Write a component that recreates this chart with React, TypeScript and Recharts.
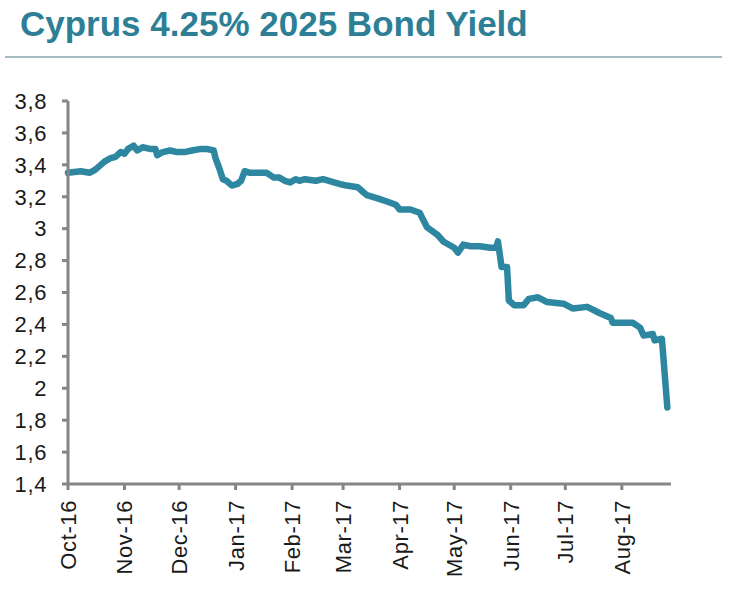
import { LineChart, Line, XAxis, YAxis } from 'recharts';

// days since 1 Oct 2016
const days = [
  0, 7, 12, 15, 18, 20, 23, 26, 29, 31, 33, 36, 38, 41, 45, 48, 49, 52, 56, 60,
  64, 68, 73, 76, 80, 81, 83, 85, 87, 90, 93, 95, 97, 100, 105, 109, 113, 116, 119, 122,
  125, 127, 130, 136, 140, 146, 149, 153, 159, 162, 164, 170, 175, 180, 182, 188, 193, 197, 203, 206,
  212, 214, 217, 221, 226, 232, 235, 236, 238, 241, 242, 245, 250, 253, 258, 263, 272, 277, 285, 292,
  298, 299, 310, 314, 316, 321, 322, 326, 329,
];
const yields = [
  3.35, 3.36, 3.35, 3.37, 3.4, 3.42, 3.44, 3.45, 3.48, 3.47, 3.5, 3.52, 3.49, 3.51, 3.5, 3.5, 3.46, 3.48, 3.49, 3.48,
  3.48, 3.49, 3.5, 3.5, 3.49, 3.44, 3.38, 3.31, 3.3, 3.27, 3.28, 3.3, 3.36, 3.35, 3.35, 3.35, 3.32, 3.32, 3.3, 3.29,
  3.31, 3.3, 3.31, 3.3, 3.31, 3.29, 3.28, 3.27, 3.26, 3.23, 3.21, 3.19, 3.17, 3.15, 3.12, 3.12, 3.1, 3.01, 2.96, 2.92,
  2.88, 2.85, 2.9, 2.89, 2.89, 2.88, 2.88, 2.92, 2.76, 2.76, 2.55, 2.52, 2.52, 2.56, 2.57, 2.54, 2.53, 2.5, 2.51, 2.47,
  2.44, 2.41, 2.41, 2.38, 2.33, 2.34, 2.3, 2.31, 1.88,
];

const monthTicks = [0, 31, 61, 92, 123, 151, 182, 212, 243, 273, 304];
const monthLabels = ['Oct-16', 'Nov-16', 'Dec-16', 'Jan-17', 'Feb-17', 'Mar-17', 'Apr-17', 'May-17', 'Jun-17', 'Jul-17', 'Aug-17'];
const yTicks = [1.4, 1.6, 1.8, 2, 2.2, 2.4, 2.6, 2.8, 3, 3.2, 3.4, 3.6, 3.8];

const data = days.map((d, i) => ({ day: d, value: yields[i] }));

const FONT = '"Liberation Sans", Arial, sans-serif';

const MonthTick = ({ x, y, payload }: any) => {
  const idx = monthTicks.indexOf(payload.value);
  return (
    <g transform={`translate(${x},${y})`}>
      <text
        x={0}
        y={0}
        dy={8}
        textAnchor="end"
        transform="rotate(-90)"
        fill="#1a1a1a"
        fontSize={22}
        letterSpacing={0.6}
        fontFamily={FONT}
      >
        {monthLabels[idx]}
      </text>
    </g>
  );
};

export default function App() {
  return (
    <div style={{ position: 'absolute', left: 0, top: 0, width: 735, height: 597, background: '#fff', fontFamily: FONT }}>
      <div
        style={{
          position: 'absolute',
          left: 20,
          top: 4,
          fontSize: 35,
          fontWeight: 'bold',
          color: '#2E7F95',
          whiteSpace: 'nowrap',
        }}
      >
        Cyprus 4.25% 2025 Bond Yield
      </div>
      <div style={{ position: 'absolute', left: 5, top: 56, width: 717, height: 2, background: '#A3BDC1' }} />
      <div style={{ position: 'absolute', left: 0, top: 0 }}>
        <LineChart width={735} height={597} data={data} margin={{ top: 101, right: 64, bottom: 13, left: 8 }}>
          <XAxis
            dataKey="day"
            type="number"
            domain={[0, 331]}
            ticks={monthTicks}
            interval={0}
            tick={<MonthTick />}
            tickSize={6}
            tickMargin={10}
            height={100}
            axisLine={{ stroke: '#868686', strokeWidth: 3 }}
            tickLine={{ stroke: '#868686', strokeWidth: 3 }}
          />
          <YAxis
            domain={[1.4, 3.8]}
            ticks={yTicks}
            interval={0}
            width={60}
            tickSize={6}
            tickMargin={15}
            tickFormatter={(v: number) => String(+v.toFixed(1)).replace('.', ',')}
            tick={{ fill: '#1a1a1a', fontSize: 22, fontFamily: FONT, letterSpacing: 0.6 }}
            axisLine={{ stroke: '#868686', strokeWidth: 3 }}
            tickLine={{ stroke: '#868686', strokeWidth: 3 }}
          />
          <Line
            type="linear"
            dataKey="value"
            stroke="#2D87A0"
            strokeWidth={6.5}
            strokeLinejoin="round"
            strokeLinecap="round"
            dot={false}
            isAnimationActive={false}
          />
        </LineChart>
      </div>
    </div>
  );
}
